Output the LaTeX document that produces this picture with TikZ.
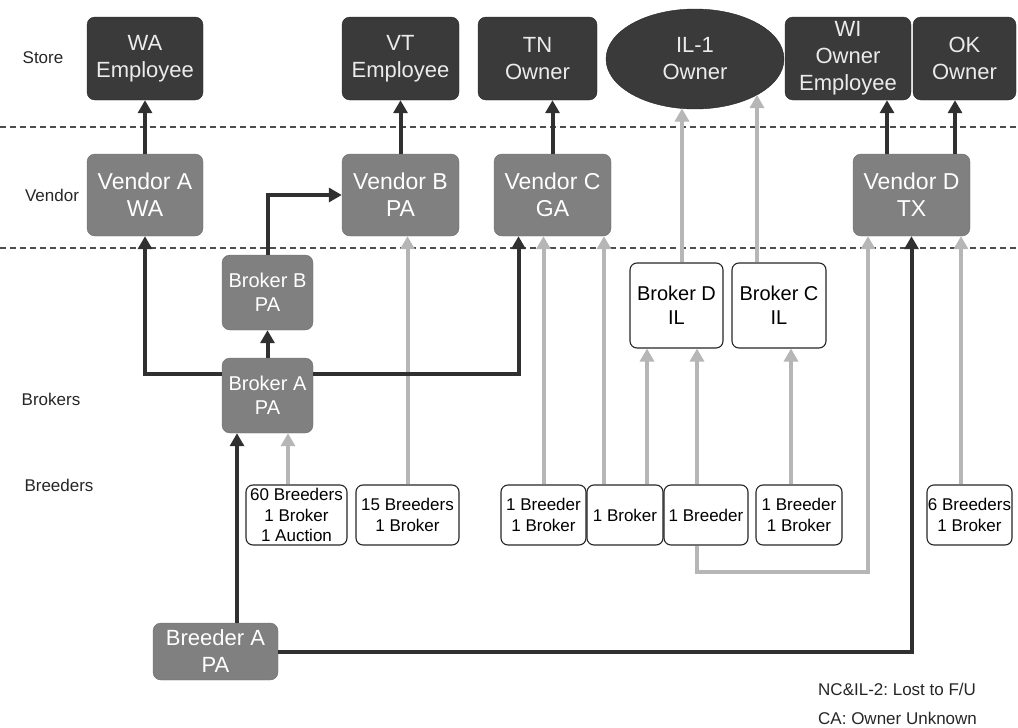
\documentclass[tikz,border=0pt]{standalone}
\usepackage{fontspec}
\setmainfont{Liberation Sans}
\frenchspacing
\usetikzlibrary{arrows.meta,shapes.geometric}
\definecolor{storefill}{RGB}{58,58,58}
\definecolor{vendorfill}{RGB}{128,128,128}
\definecolor{darkline}{RGB}{48,48,48}
\definecolor{lightline}{RGB}{182,182,182}
\tikzset{
  storebox/.style={draw=black!85, fill=storefill, rounded corners=8pt, text=white!92!black, align=center, inner sep=0pt, minimum height=83pt, font=\fontsize{22}{27}\selectfont},
  vendorbox/.style={draw=vendorfill!85!black, fill=vendorfill, rounded corners=8pt, text=white, align=center, inner sep=0pt, minimum height=82pt, font=\fontsize{23}{27}\selectfont},
  brokerbox/.style={vendorbox, minimum width=91pt, minimum height=75pt, font=\fontsize{20}{24}\selectfont},
  whitebox/.style={draw=black!85, fill=white, line width=1.1pt, rounded corners=7pt, align=center, inner sep=0pt, font=\fontsize{20}{24}\selectfont},
  breederbox/.style={whitebox, minimum height=60pt, font=\fontsize{17}{20.5}\selectfont},
  rowlabel/.style={text=black!85, inner sep=0pt, font=\fontsize{17}{20}\selectfont},
  darkarrow/.style={draw=darkline, line width=4pt, -{Triangle[width=14pt,length=13pt]}},
  lightarrow/.style={draw=lightline, line width=4pt, -{Triangle[width=14pt,length=13pt]}},
}
\begin{document}
\begin{tikzpicture}[x=1pt,y=1pt,yscale=-1]
\useasboundingbox (0,0) rectangle (1018,728);

% tier separators
\draw[black!70, line width=1.3pt, dash pattern=on 6pt off 4pt] (0,127) -- (1018,127);
\draw[black!70, line width=1.3pt, dash pattern=on 6pt off 4pt] (0,248) -- (1018,248);

% tier labels
\node[rowlabel] (lblstore) at (43,58) {Store};
\node[rowlabel] (lblvendor) at (52,195) {Vendor};
\node[rowlabel] (lblbrokers) at (51,399) {Brokers};
\node[rowlabel] (lblbreeders) at (59,485) {Breeders};

% Store
\node[storebox, minimum width=116pt] (wa) at (145,58.5) {WA\\Employee};
\node[storebox, minimum width=117pt] (vt) at (400.5,58.5) {VT\\Employee};
\node[storebox, minimum width=119pt] (tn) at (537.5,58.5) {TN\\Owner};
\node[ellipse, draw=black!85, fill=storefill, text=white!92!black, align=center, inner sep=0pt, minimum width=178pt, minimum height=100pt, font=\fontsize{22}{27}\selectfont] (il1) at (695,59) {IL-1\\Owner};
\node[storebox, minimum width=126pt] (wi) at (848,58.5) {WI\\Owner\\Employee};
\node[storebox, minimum width=103pt] (ok) at (964.5,58.5) {OK\\Owner};

% Vendor
\node[vendorbox, minimum width=116pt] (va) at (145,195) {Vendor A\\WA};
\node[vendorbox, minimum width=117pt] (vb) at (400.5,195) {Vendor B\\PA};
\node[vendorbox, minimum width=117pt] (vc) at (552.5,195) {Vendor C\\GA};
\node[vendorbox, minimum width=117pt] (vd) at (911.5,195) {Vendor D\\TX};

% Brokers
\node[brokerbox] (bb) at (267.5,292.5) {Broker B\\PA};
\node[brokerbox] (ba) at (267.5,395.5) {Broker A\\PA};
\node[whitebox, minimum width=93pt, minimum height=85pt] (bd) at (676.5,305.5) {Broker D\\IL};
\node[whitebox, minimum width=94pt, minimum height=85pt] (bc) at (779,305.5) {Broker C\\IL};

% Breeders
\node[breederbox, minimum width=101pt] (b60) at (296.5,515) {60 Breeders\\1 Broker\\1 Auction};
\node[breederbox, minimum width=103pt] (b15) at (407.5,515) {15 Breeders\\1 Broker};
\node[breederbox, minimum width=85pt] (b1a) at (543.5,515) {1 Breeder\\1 Broker};
\node[breederbox, minimum width=76pt] (b1k) at (625,515) {1 Broker};
\node[breederbox, minimum width=84pt] (b1e) at (706,515) {1 Breeder};
\node[breederbox, minimum width=86pt] (b1c) at (799,515) {1 Breeder\\1 Broker};
\node[breederbox, minimum width=85pt] (b6) at (969.5,515) {6 Breeders\\1 Broker};
\node[vendorbox, minimum width=125pt, minimum height=57pt, font=\fontsize{22}{27}\selectfont] (bra) at (215.5,651.5) {Breeder A\\PA};

% notes
\node[rowlabel, anchor=west] (note1) at (818,689) {NC\&IL-2: Lost to F/U};
\node[rowlabel, anchor=west] (note2) at (818,718) {CA: Owner Unknown};

% light flows
\coordinate (ilfoot1) at (682,108.5);
\coordinate (ilfoot2) at (757,95);
\draw[lightarrow] ([xshift=-8.5pt]b60.north) -- ([xshift=-8.5pt]b60.north |- ba.south);
\draw[lightarrow] (b15.north) -- (b15.north |- vb.south);
\draw[lightarrow] (b1a.north) -- (b1a.north |- vc.south);
\draw[lightarrow] ([xshift=-21pt]b1k.north) -- ([xshift=-21pt]b1k.north |- vc.south);
\draw[lightarrow] ([xshift=22pt]b1k.north) -- ([xshift=22pt]b1k.north |- bd.south);
\draw[lightarrow] ([xshift=-9pt]b1e.north) -- ([xshift=-9pt]b1e.north |- bd.south);
\draw[lightarrow] ([xshift=-9pt]b1e.south) -- ++(0,26) -| ([xshift=-43.5pt]vd.south);
\draw[lightarrow] ([xshift=-8pt]b1c.north) -- ([xshift=-8pt]b1c.north |- bc.south);
\draw[lightarrow] ([xshift=-8.5pt]b6.north) -- ([xshift=-8.5pt]b6.north |- vd.south);
\draw[lightarrow] (bd.north -| ilfoot1) -- (ilfoot1);
\draw[lightarrow] (bc.north -| ilfoot2) -- (ilfoot2);

% dark flows
\draw[darkarrow] ([xshift=21.5pt]bra.north) -- ([xshift=21.5pt]bra.north |- ba.south);
\draw[darkarrow] (bra.east) -| (vd.south);
\draw[darkarrow] (ba.north) -- (bb.south);
\draw[darkarrow] (bb.north) |- (vb.west);
\draw[darkarrow] (ba.155) -| (va.south);
\draw[darkarrow] (ba.25) -| ([xshift=-34pt]vc.south);
\draw[darkarrow] (va.north) -- (wa.south);
\draw[darkarrow] (vb.north) -- (vb.north |- vt.south);
\draw[darkarrow] (vc.north) -- (vc.north |- tn.south);
\draw[darkarrow] ([xshift=-24.5pt]vd.north) -- ([xshift=-24.5pt]vd.north |- wi.south);
\draw[darkarrow] ([xshift=43.5pt]vd.north) -- ([xshift=43.5pt]vd.north |- ok.south);
\end{tikzpicture}
\end{document}
